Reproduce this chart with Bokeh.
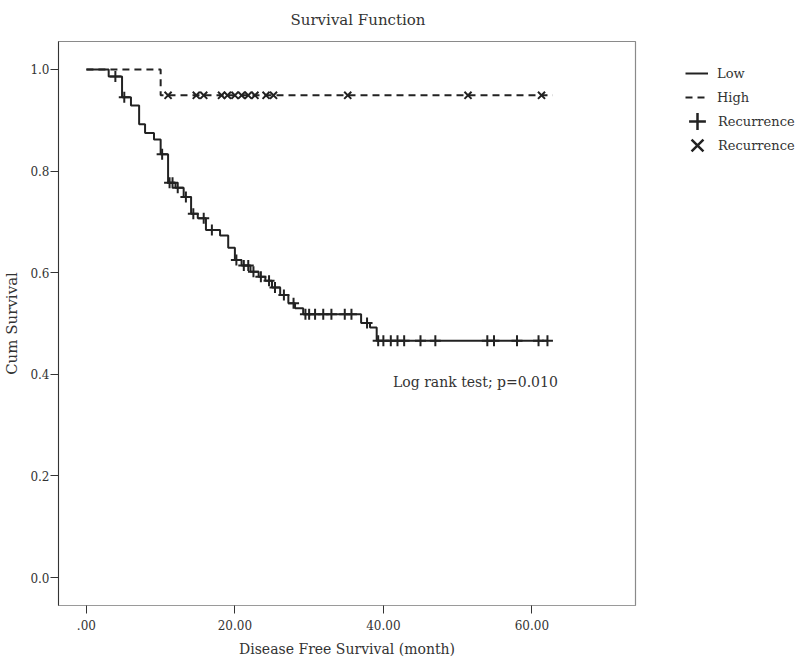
from bisect import bisect_right
from bokeh.plotting import figure
from bokeh.layouts import row
from bokeh.models import Range1d, FixedTicker, Legend, LegendItem, Label
from bokeh.embed import file_html
from bokeh.resources import INLINE

# ---------------- data ----------------
# "Low" group: Kaplan-Meier step times (months) and survival after each step
low_time = [0, 3.0, 4.8, 6.0, 7.1, 7.9, 9.1, 10.0, 11.0, 12.0, 13.1, 14.1, 15.0,
            16.1, 18.0, 19.1, 20.0, 20.9, 22.1, 23.2, 24.1, 25.0, 26.1, 27.2,
            28.1, 29.2, 37.0, 38.2, 39.1, 62.1]
low_surv = [1.0, 0.986, 0.945, 0.929, 0.892, 0.875, 0.862, 0.833, 0.777, 0.767,
            0.749, 0.716, 0.707, 0.684, 0.673, 0.649, 0.625, 0.614, 0.602, 0.592,
            0.584, 0.571, 0.556, 0.540, 0.530, 0.518, 0.501, 0.492, 0.466, 0.466]
# "Low" group censored times ("+" marks)
low_censored = [3.9, 5.1, 10.2, 11.2, 11.6, 12.3, 13.4, 14.4, 15.8, 16.9, 20.2,
                21.2, 21.8, 22.5, 23.5, 24.6, 25.4, 26.6, 27.9, 29.5, 30.0, 30.8,
                31.9, 33.0, 34.8, 35.7, 37.8, 39.3, 40.0, 41.0, 41.9, 42.8, 45.0,
                47.0, 54.0, 54.9, 58.0, 60.9, 62.1]

# "High" group
high_time = [0, 10.0, 62.8]
high_surv = [1.0, 0.949, 0.949]
high_censored = [11.0, 14.8, 15.8, 18.2, 19.0, 20.0, 20.9, 21.8, 22.7, 24.2,
                 25.2, 35.2, 51.4, 61.3]

x_ticks = [0, 20, 40, 60]
x_tick_labels = [".00", "20.00", "40.00", "60.00"]
y_ticks = [0.0, 0.2, 0.4, 0.6, 0.8, 1.0]
y_tick_labels = ["0.0", "0.2", "0.4", "0.6", "0.8", "1.0"]

line_legend_labels = ["Low", "High"]
plus_legend_label = "Recurrence"
x_legend_label = "Recurrence"
title_text = "Survival Function"
x_label = "Disease Free Survival (month)"
y_label = "Cum Survival"
stat_text = "Log rank test; p=0.010"
stat_pos = (41.3, 0.384)


def surv_at(times, survs, t):
    i = bisect_right(times, t) - 1
    return survs[max(i, 0)]


low_cens_surv = [surv_at(low_time, low_surv, t) for t in low_censored]
high_cens_surv = [surv_at(high_time, high_surv, t) for t in high_censored]

# ---------------- styling ----------------
FONT = "DejaVu Serif"
INK = "#222222"
TXT = "#333333"
LW = 2
DASH = "7 5"

p = figure(width=645, height=662, output_backend="svg", toolbar_location=None,
           x_range=Range1d(-3.76, 73.96), y_range=Range1d(-0.0549, 1.0549),
           min_border_left=56, min_border_right=10, min_border_top=39,
           min_border_bottom=57, background_fill_color="white",
           border_fill_color="white")

p.title.text = title_text
p.title.align = "left"
p.title.offset = 232
p.title.vertical_align = "top"
p.title.standoff = 21
p.title.text_font = FONT
p.title.text_font_size = "15px"
p.title.text_font_style = "normal"
p.title.text_color = TXT

p.grid.visible = False
p.outline_line_color = "#8a8a8a"
p.outline_line_width = 1.2

for ax in (p.xaxis[0], p.yaxis[0]):
    ax.major_tick_out = 8
    ax.major_tick_in = 0
    ax.minor_tick_line_color = None
    ax.major_tick_line_color = "#333333"
    ax.major_label_text_font = FONT
    ax.major_label_text_font_size = "12px"
    ax.major_label_text_color = TXT
    ax.axis_label_text_font = FONT
    ax.axis_label_text_font_style = "normal"
    ax.axis_label_text_color = TXT

p.xaxis.ticker = FixedTicker(ticks=x_ticks)
p.xaxis.major_label_overrides = dict(zip(x_ticks, x_tick_labels))
p.xaxis.axis_label = x_label
p.xaxis.axis_label_text_font_size = "14px"
p.xaxis.axis_line_color = "#9a9a9a"
p.xaxis.major_label_standoff = 6
p.xaxis.axis_label_standoff = 8

p.yaxis.ticker = FixedTicker(ticks=y_ticks)
p.yaxis.major_label_overrides = dict(zip(y_ticks, y_tick_labels))
p.yaxis.axis_label = y_label
p.yaxis.axis_label_text_font_size = "15px"
p.yaxis.axis_line_color = "#333333"
p.yaxis.major_label_standoff = 1
p.yaxis.axis_label_standoff = 6

# ---------------- marks ----------------
p.step(low_time, low_surv, mode="after", line_color=INK, line_width=LW)
p.step(high_time, high_surv, mode="after", line_color=INK, line_width=LW,
       line_dash=DASH)
p.scatter(low_censored, low_cens_surv, marker="cross", size=11,
          line_color=INK, line_width=2)
p.scatter(high_censored, high_cens_surv, marker="x", size=10,
          line_color=INK, line_width=2)

p.add_layout(Label(x=stat_pos[0], y=stat_pos[1], text=stat_text,
                   text_font=FONT, text_font_size="14px", text_color=TXT,
                   text_align="left", text_baseline="middle"))

# ---------------- legend panel (right of the plot) ----------------
q = figure(width=153, height=662, output_backend="svg", toolbar_location=None,
           x_range=Range1d(0, 1), y_range=Range1d(0, 1),
           x_axis_type=None, y_axis_type=None, min_border=0,
           outline_line_color=None, background_fill_color="white",
           border_fill_color="white")
q.grid.visible = False
off = ([-5, -4], [-5, -5])  # legend swatches only; kept outside the visible range
g_low = q.line(*off, line_color=INK, line_width=LW)
g_high = q.line(*off, line_color=INK, line_width=LW, line_dash=DASH)
g_plus = q.scatter([-5], [-5], marker="cross", line_color=INK, line_width=2.5)
g_x = q.scatter([-5], [-5], marker="x", line_color=INK, line_width=2.5)

common = dict(orientation="vertical", border_line_color=None,
              background_fill_alpha=0, padding=0, margin=0, spacing=0,
              label_text_font=FONT, label_text_font_size="13px",
              label_text_color=TXT)

legend_lines = Legend(items=[LegendItem(label=lab, renderers=[r])
                             for lab, r in zip(line_legend_labels, [g_low, g_high])],
                      location=(40, 496), glyph_width=23, glyph_height=24,
                      label_height=24, label_standoff=9, **common)
marker_cfg = dict(glyph_width=42, glyph_height=42, label_height=24,
                  label_standoff=0, **common)
legend_plus = Legend(items=[LegendItem(label=plus_legend_label, renderers=[g_plus])],
                     location=(31, 463), **marker_cfg)
legend_x = Legend(items=[LegendItem(label=x_legend_label, renderers=[g_x])],
                  location=(31, 439), **marker_cfg)
q.add_layout(legend_lines)
q.add_layout(legend_plus)
q.add_layout(legend_x)

layout = row(p, q)
open("out.html", "w").write(file_html(layout, INLINE))
